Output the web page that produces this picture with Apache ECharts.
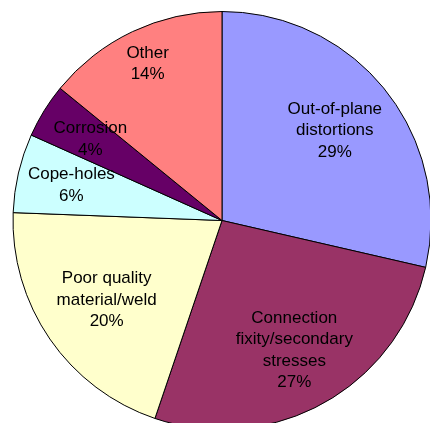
<!DOCTYPE html>
<html>
<head>
<meta charset="utf-8">
<script src="https://cdn.jsdelivr.net/npm/echarts@6/dist/echarts.min.js"></script>
<style>
html,body{margin:0;padding:0;background:#fff;}
#chart{width:430px;height:423px;}
</style>
</head>
<body>
<div id="chart"></div>
<script>
// Data
const categories = ['Out-of-plane\ndistortions', 'Connection\nfixity/secondary\nstresses', 'Poor quality\nmaterial/weld', 'Cope-holes', 'Corrosion', 'Other'];
const values = [28.6, 26.6, 20.4, 6.1, 4.2, 14.1];
const colors = ['#9999FF', '#993366', '#FFFFCC', '#CCFFFF', '#660066', '#FF8080'];
// relative distance of each label from the centre (fraction of radius)
const labelRadius = [0.69, 0.71, 0.67, 0.74, 0.74, 0.83];

const CX = 222, CY = 220.5, R = 209;
const total = values.reduce((a, b) => a + b, 0);
const midAngles = [];
let acc = 0;
values.forEach(v => { midAngles.push((acc + v / 2) / total * 2 * Math.PI); acc += v; });

const chart = echarts.init(document.getElementById('chart'), null, {renderer: 'canvas'});
chart.setOption({
  backgroundColor: '#fff',
  animation: false,
  series: [{
    type: 'pie',
    center: [CX, CY],
    radius: [0, R],
    startAngle: 90,
    clockwise: true,
    percentPrecision: 0,
    avoidLabelOverlap: false,
    data: categories.map((c, i) => ({name: c, value: values[i], itemStyle: {color: colors[i]}})),
    itemStyle: {borderColor: '#000', borderWidth: 1},
    emphasis: {disabled: true},
    label: {
      show: true,
      position: 'inside',
      formatter: '{b}\n{d}%',
      color: '#000',
      fontFamily: '"Liberation Sans", Arial, sans-serif',
      fontSize: 17,
      lineHeight: 21.5,
      align: 'center',
      verticalAlign: 'middle'
    },
    labelLine: {show: false},
    labelLayout: function (params) {
      const i = params.dataIndex;
      const a = midAngles[i];
      const r = labelRadius[i] * R;
      return {
        x: CX + r * Math.sin(a),
        y: CY - r * Math.cos(a),
        align: 'center',
        verticalAlign: 'middle'
      };
    }
  }]
});
</script>
</body>
</html>
